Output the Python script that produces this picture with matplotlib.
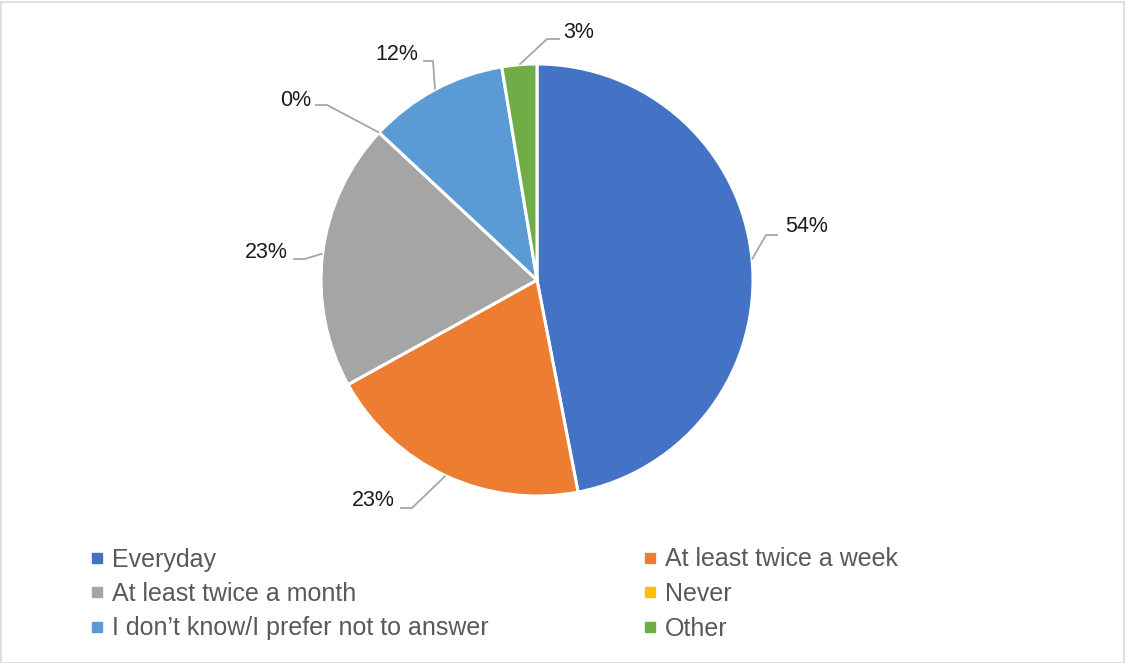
import matplotlib.pyplot as plt
import numpy as np
from matplotlib.lines import Line2D
from matplotlib.patches import Rectangle

categories = ['Everyday', 'At least twice a week', 'At least twice a month',
              'Never', 'I don\u2019t know/I prefer not to answer', 'Other']
percent = [54, 23, 23, 0, 12, 3]
colors = ['#4472C4', '#ED7D31', '#A5A5A5', '#FFC000', '#5B9BD5', '#70AD47']

plt.rcParams['font.family'] = ['Liberation Sans', 'DejaVu Sans']

W, H = 1125, 663
fig = plt.figure(figsize=(W / 100, H / 100), dpi=100)

# axes in pixel units so the layout is easy to place
ax = fig.add_axes([0, 0, 1, 1])

cx, cy, r = 537, 383, 216
wedges, _ = ax.pie(percent, colors=colors, startangle=90, counterclock=False,
                   center=(cx, cy), radius=r, frame=True,
                   wedgeprops=dict(edgecolor='white', linewidth=2.2))
ax.set_xlim(0, W)
ax.set_ylim(0, H)
ax.set_aspect('equal')
ax.axis('off')

# leader line elbows and label anchors (pixels), one per slice
elbows = [(766, 428), (412, 155), (305, 404), (327, 558), (433, 602), (547, 624)]
ends = [(778, 428), (400, 155), (293, 404), (315, 558), (423, 602), (560, 624)]
texts = [(785, 437, 'left'), (395, 163, 'right'), (288, 411, 'right'),
         (311, 563, 'right'), (418, 609, 'right'), (563, 630, 'left')]

for w, p, el, en, (tx, ty, ha) in zip(wedges, percent, elbows, ends, texts):
    mid = np.deg2rad((w.theta1 + w.theta2) / 2)
    ex, ey = cx + r * np.cos(mid), cy + r * np.sin(mid)
    ax.plot([ex, el[0], en[0]], [ey, el[1], en[1]], color='#A6A6A6', lw=1.3,
            solid_capstyle='butt')
    ax.text(tx, ty, f'{p}%', ha=ha, va='center', fontsize=15.5, color='#1a1a1a')

# legend fills row by row: reorder for matplotlib's column-major layout
order = [0, 2, 4, 1, 3, 5]
handles = [Line2D([], [], marker='s', ls='none', markersize=7.5,
                  markerfacecolor=colors[i], markeredgecolor=colors[i])
           for i in order]
fig.legend(handles, [categories[i] for i in order], ncol=2, loc='upper left',
           bbox_to_anchor=(73 / W, 1 - 530 / H), frameon=False,
           fontsize=18, labelcolor='#595959', handlelength=0.5,
           handletextpad=0.35, columnspacing=6.2, labelspacing=0.42,
           borderpad=0.2)

fig.add_artist(Rectangle((0.5 / W, 0.5 / H), 1 - 2 / W, 1 - 2 / H,
                         transform=fig.transFigure, fill=False,
                         edgecolor='#D9D9D9', lw=1.2))

fig.savefig('out.png', dpi=100)
